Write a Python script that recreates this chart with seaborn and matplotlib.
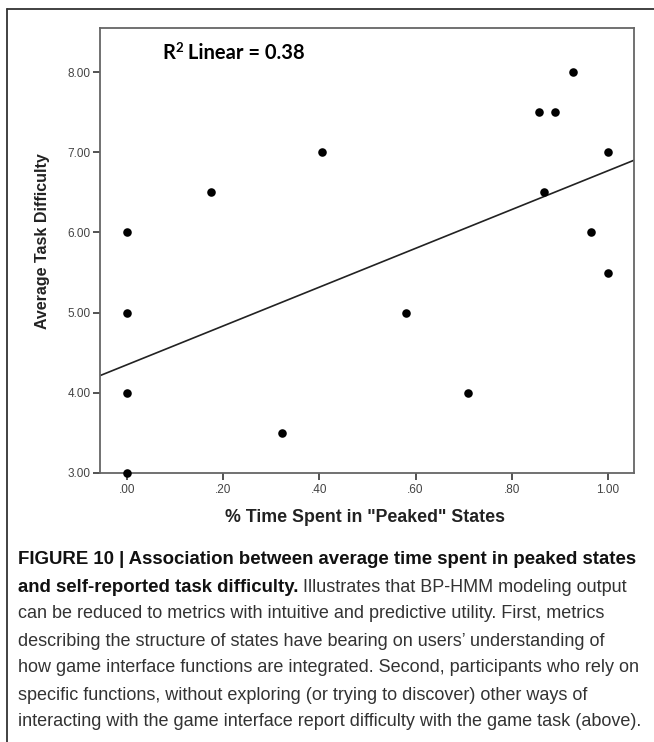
import matplotlib
matplotlib.use("Agg")
import matplotlib.pyplot as plt
import seaborn as sns
import pandas as pd
from matplotlib.lines import Line2D

# ---- data ----
pct_peaked = [0.0, 0.0, 0.0, 0.0, 0.175, 0.322, 0.405, 0.58, 0.709,
              0.857, 0.867, 0.89, 0.927, 0.965, 1.0, 1.0]
task_difficulty = [3.0, 4.0, 5.0, 6.0, 6.5, 3.5, 7.0, 5.0, 4.0,
                   7.5, 6.5, 7.5, 8.0, 6.0, 7.0, 5.5]
fit_intercept = 4.35
fit_slope = 2.42
r2_value = "0.38"
x_ticks = [0.0, 0.2, 0.4, 0.6, 0.8, 1.0]
x_tick_labels = [".00", ".20", ".40", ".60", ".80", "1.00"]
y_ticks = [3, 4, 5, 6, 7, 8]
y_tick_labels = ["3.00", "4.00", "5.00", "6.00", "7.00", "8.00"]
x_label = '% Time Spent in "Peaked" States'
y_label = "Average Task Difficulty"
caption_bold_1 = "FIGURE 10 | Association between average time spent in peaked states"
caption_bold_2 = "and self-reported task difficulty."
caption_rest_2 = " Illustrates that BP-HMM modeling output"
caption_lines = [
    "can be reduced to metrics with intuitive and predictive utility. First, metrics",
    "describing the structure of states have bearing on users’ understanding of",
    "how game interface functions are integrated. Second, participants who rely on",
    "specific functions, without exploring (or trying to discover) other ways of",
    "interacting with the game interface report difficulty with the game task (above).",
]

df = pd.DataFrame({"x": pct_peaked, "y": task_difficulty})

sns.set_style("white")
plt.rcParams["font.family"] = ["Liberation Sans", "DejaVu Sans"]

W, H = 654, 742
fig = plt.figure(figsize=(W / 100, H / 100), dpi=100)
fig.patch.set_facecolor("white")

ax = fig.add_axes([100 / W, 1 - 473 / H, 534 / W, 445 / H])
sns.scatterplot(data=df, x="x", y="y", ax=ax, color="black", s=38,
                edgecolor="black", linewidth=0, zorder=3, clip_on=False)
ax.axline((0, fit_intercept), slope=fit_slope, color="#222222", lw=1.2, zorder=2)

ax.set_xlim(-0.056, 1.054)
ax.set_ylim(3.0, 8.55)
ax.set_xticks(x_ticks, x_tick_labels)
ax.set_yticks(y_ticks, y_tick_labels)
for sp in ax.spines.values():
    sp.set_color("#666666")
    sp.set_linewidth(1.3)
ax.tick_params(axis="both", direction="out", length=5, width=1.3, color="#444444",
               labelsize=8.5, labelcolor="#444444", pad=1.5, bottom=True, left=True)
ax.tick_params(axis="x", pad=3)

ax.set_xlabel(x_label, fontsize=12.8, fontweight="bold", color="#222222")
ax.set_ylabel(y_label, fontsize=11.5, fontweight="bold", color="#222222")
ax.xaxis.label.set_va("center")
ax.yaxis.label.set_va("center")
ax.xaxis.set_label_coords((365 - 100) / 534, (473 - 517) / 445)
ax.yaxis.set_label_coords((43 - 100) / 534, (473 - 241) / 445)

# R² annotation
renderer = fig.canvas.get_renderer()
r2_font = ["Lato", "DejaVu Sans"]
ty = 1 - 53 / H
t_r = fig.text(162 / W, ty, "R", fontsize=14.5, fontweight="bold", family=r2_font,
               va="center", ha="left", color="black")
bb = t_r.get_window_extent(renderer=renderer)
t_s = fig.text(bb.x1 / W + 0.5 / W, ty + 5 / H, "2", fontsize=9.5, fontweight="bold",
               family=r2_font, va="center", ha="left", color="black")
bb2 = t_s.get_window_extent(renderer=renderer)
fig.text(bb2.x1 / W, ty, " Linear = " + r2_value, fontsize=14.5, fontweight="bold",
         family=r2_font, va="center", ha="left", color="black")

# outer frame (top and left edges visible)
fig.add_artist(Line2D([7 / W, 1.0], [1 - 9 / H, 1 - 9 / H], transform=fig.transFigure,
                      color="#333333", lw=1.3))
fig.add_artist(Line2D([7 / W, 7 / W], [1 - 9 / H, 0.0], transform=fig.transFigure,
                      color="#333333", lw=1.3))

# caption
cap_family = ["Liberation Sans Narrow", "Liberation Sans", "DejaVu Sans"]
bold_size = 13.4
reg_size = 12.95
x0 = 18 / W
line_y = [560, 587, 614, 641, 668, 695, 722]
fig.text(x0, 1 - line_y[0] / H, caption_bold_1, fontsize=bold_size, fontweight="bold",
         family=cap_family, va="center", ha="left", color="#111111")
t_b = fig.text(x0, 1 - line_y[1] / H, caption_bold_2, fontsize=bold_size, fontweight="bold",
               family=cap_family, va="center", ha="left", color="#111111")
bb = t_b.get_window_extent(renderer=renderer)
fig.text(bb.x1 / W, 1 - line_y[1] / H, caption_rest_2, fontsize=reg_size,
         family=cap_family, va="center", ha="left", color="#333333")
for ly, txt in zip(line_y[2:], caption_lines):
    fig.text(x0, 1 - ly / H, txt, fontsize=reg_size, family=cap_family,
             va="center", ha="left", color="#333333")

fig.savefig("out.png", dpi=100)
